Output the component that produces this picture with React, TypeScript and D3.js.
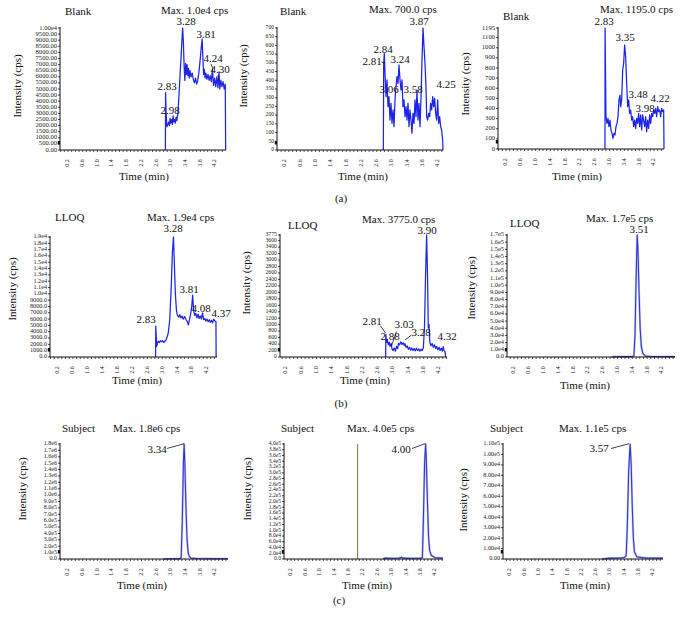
import React from "react";
import * as d3 from "d3";

const FONT = "Liberation Serif";

// ---------- shared tick labels ----------
const xTickLabels = ["0.2", "0.6", "1.0", "1.4", "1.8", "2.2", "2.6", "3.0", "3.4", "3.8", "4.2"];

// ---------- y tick labels per panel ----------
const yLabelsA1 = ["0.00", "500.00", "1000.00", "1500.00", "2000.00", "2500.00", "3000.00", "3500.00", "4000.00", "4500.00", "5000.00", "5500.00", "6000.00", "6500.00", "7000.00", "7500.00", "8000.00", "8500.00", "9000.00", "9500.00", "1.00e4"];
const yLabelsA2 = ["0", "50", "100", "150", "200", "250", "300", "350", "400", "450", "500", "550", "600", "650", "700"];
const yLabelsA3 = ["0", "100", "200", "300", "400", "500", "600", "700", "800", "900", "1000", "1100", "1195"];
const yLabelsB1 = ["0.0", "1000.0", "2000.0", "3000.0", "4000.0", "5000.0", "6000.0", "7000.0", "8000.0", "9000.0", "1.0e4", "1.1e4", "1.2e4", "1.3e4", "1.4e4", "1.5e4", "1.6e4", "1.7e4", "1.8e4", "1.9e4"];
const yLabelsB2 = ["0", "200", "400", "600", "800", "1000", "1200", "1400", "1600", "1800", "2000", "2200", "2400", "2600", "2800", "3000", "3200", "3400", "3600", "3775"];
const yLabelsB3 = ["0.0", "1.0e4", "2.0e4", "3.0e4", "4.0e4", "5.0e4", "6.0e4", "7.0e4", "8.0e4", "9.0e4", "1.0e5", "1.1e5", "1.2e5", "1.3e5", "1.4e5", "1.5e5", "1.6e5", "1.7e5"];
const yLabelsC1 = ["0.0", "1.0e5", "2.0e5", "3.0e5", "4.0e5", "5.0e5", "6.0e5", "7.0e5", "8.0e5", "9.0e5", "1.0e6", "1.1e6", "1.2e6", "1.3e6", "1.4e6", "1.5e6", "1.6e6", "1.7e6", "1.8e6"];
const yLabelsC2 = ["0.0", "2.0e4", "4.0e4", "6.0e4", "8.0e4", "1.0e5", "1.2e5", "1.4e5", "1.6e5", "1.8e5", "2.0e5", "2.2e5", "2.4e5", "2.6e5", "2.8e5", "3.0e5", "3.2e5", "3.4e5", "3.6e5", "3.8e5", "4.0e5"];
const yLabelsC3 = ["0.00", "1.00e4", "2.00e4", "3.00e4", "4.00e4", "5.00e4", "6.00e4", "7.00e4", "8.00e4", "9.00e4", "1.00e5", "1.10e5"];

// ---------- traces: [time (min), intensity (cps)] ----------
const traceA1: [number, number][] = [[2.85,0],[2.855,4700],[2.87,3000],[2.89,1900],[2.92,2100],[2.94,2300],[2.96,2000],[2.98,2600],[3.00,2200],[3.02,2500],[3.04,2100],[3.06,2800],[3.08,2300],[3.10,2500],[3.12,2200],[3.14,2700],[3.16,2400],[3.19,3000],[3.22,4500],[3.25,6200],[3.28,7800],[3.30,9000],[3.32,10000],[3.34,8800],[3.36,6800],[3.38,5700],[3.40,7100],[3.42,6200],[3.44,7000],[3.46,6100],[3.48,6700],[3.50,5900],[3.52,6500],[3.55,6000],[3.58,6300],[3.61,5800],[3.64,5500],[3.67,5900],[3.70,5400],[3.73,5700],[3.76,6300],[3.79,7200],[3.82,8200],[3.85,9100],[3.87,7600],[3.89,6200],[3.91,6600],[3.93,5900],[3.95,6300],[3.98,5800],[4.01,6200],[4.04,5700],[4.07,6100],[4.10,5600],[4.13,6600],[4.16,5300],[4.19,5900],[4.22,5200],[4.25,6000],[4.28,5100],[4.31,6400],[4.33,5000],[4.36,5700],[4.39,5200],[4.42,5600],[4.45,5000],[4.48,5400],[4.49,0]];
const traceA2: [number, number][] = [[2.771,0],[2.78,500],[2.797,555],[2.814,440],[2.841,306],[2.867,402],[2.893,249],[2.919,306],[2.945,172],[2.971,268],[2.997,153],[3.024,230],[3.05,134],[3.076,287],[3.102,363],[3.128,421],[3.154,382],[3.18,488],[3.207,402],[3.233,344],[3.259,402],[3.285,249],[3.311,287],[3.337,191],[3.364,249],[3.39,172],[3.416,268],[3.442,134],[3.468,230],[3.494,172],[3.52,96],[3.546,210],[3.573,153],[3.599,287],[3.625,191],[3.651,344],[3.677,172],[3.703,268],[3.73,134],[3.756,306],[3.782,516],[3.808,700],[3.834,593],[3.86,497],[3.886,363],[3.904,191],[3.93,172],[3.956,210],[3.982,191],[4.008,268],[4.035,230],[4.061,306],[4.087,249],[4.113,296],[4.139,210],[4.165,172],[4.191,287],[4.217,153],[4.244,191],[4.27,134],[4.296,115],[4.322,57],[4.34,0]];
const traceA3: [number, number][] = [[2.875,0],[2.878,1195],[2.902,319],[2.929,253],[2.956,303],[2.983,221],[3.010,286],[3.037,188],[3.064,155],[3.091,105],[3.118,155],[3.146,138],[3.173,221],[3.2,253],[3.227,319],[3.254,484],[3.281,533],[3.299,418],[3.326,484],[3.353,780],[3.38,846],[3.407,1027],[3.434,912],[3.461,649],[3.488,418],[3.515,484],[3.542,352],[3.569,385],[3.596,286],[3.623,319],[3.65,221],[3.677,286],[3.704,204],[3.731,303],[3.758,253],[3.785,352],[3.812,221],[3.839,336],[3.866,188],[3.893,336],[3.92,286],[3.947,221],[3.974,319],[4.001,171],[4.028,286],[4.055,204],[4.083,336],[4.11,253],[4.137,352],[4.164,319],[4.191,385],[4.218,352],[4.245,402],[4.272,319],[4.299,418],[4.326,369],[4.353,385],[4.38,319],[4.407,402],[4.434,369],[4.461,385],[4.479,0]];
const traceB1: [number, number][] = [[2.82,0],[2.825,4900],[2.85,1700],[2.87,2200],[2.89,2500],[2.92,2300],[2.95,2600],[2.98,2400],[3.01,2600],[3.04,2300],[3.07,2500],[3.10,2700],[3.13,3200],[3.16,3800],[3.20,5900],[3.24,11100],[3.27,16500],[3.30,19000],[3.32,15400],[3.35,10100],[3.38,7400],[3.40,6700],[3.44,6300],[3.47,6700],[3.50,6200],[3.53,6500],[3.56,6000],[3.60,6400],[3.64,5900],[3.67,5600],[3.70,5100],[3.73,5900],[3.76,6800],[3.79,8000],[3.815,9800],[3.84,7400],[3.87,6600],[3.90,6900],[3.93,6200],[3.96,6800],[3.99,6100],[4.02,6500],[4.05,6000],[4.08,7000],[4.11,5900],[4.14,6100],[4.17,5700],[4.20,6000],[4.23,5600],[4.26,5900],[4.29,5500],[4.32,5800],[4.35,5400],[4.38,6000],[4.41,5700],[4.44,5600],[4.445,0]];
const traceB2: [number, number][] = [[2.805,0],[2.81,700],[2.83,450],[2.85,520],[2.875,380],[2.90,460],[2.92,330],[2.95,420],[2.97,250],[3.00,200],[3.03,280],[3.06,180],[3.09,330],[3.12,260],[3.14,420],[3.17,380],[3.20,470],[3.23,390],[3.26,440],[3.29,360],[3.31,410],[3.34,300],[3.37,340],[3.40,240],[3.43,300],[3.46,210],[3.49,280],[3.52,200],[3.55,260],[3.58,190],[3.61,270],[3.64,200],[3.67,250],[3.70,180],[3.73,240],[3.76,200],[3.79,280],[3.82,900],[3.85,2600],[3.877,3775],[3.90,2500],[3.92,900],[3.94,1000],[3.96,450],[3.99,350],[4.02,420],[4.05,300],[4.08,380],[4.11,260],[4.14,330],[4.17,220],[4.20,300],[4.23,200],[4.26,270],[4.29,180],[4.31,320],[4.33,210],[4.36,150],[4.374,0]];
const traceB3: [number, number][] = [[2.84,0],[2.9,400],[3.2,500],[3.40,600],[3.44,1500],[3.47,30000],[3.50,110000],[3.53,170000],[3.55,150000],[3.58,90000],[3.61,40000],[3.64,15000],[3.68,5000],[3.75,1500],[3.9,800],[4.2,600],[4.55,500]];
const traceC1: [number, number][] = [[2.79,0],[3.0,3000],[3.25,5000],[3.28,30000],[3.31,600000],[3.34,1500000],[3.36,1800000],[3.38,1500000],[3.41,800000],[3.44,300000],[3.47,100000],[3.50,40000],[3.55,15000],[3.7,8000],[4.0,5000],[4.55,4000]];
const traceC2: [number, number][] = [[2.76,0],[2.8,3000],[3.0,2500],[3.2,3000],[3.27,6000],[3.32,3000],[3.5,2500],[3.8,2500],[3.85,5000],[3.88,150000],[3.91,330000],[3.94,400000],[3.96,340000],[3.99,200000],[4.02,80000],[4.05,30000],[4.1,12000],[4.2,5000],[4.42,3000]];
const traceC3: [number, number][] = [[2.77,0],[3.0,800],[3.3,1000],[3.40,1500],[3.45,3000],[3.48,30000],[3.52,85000],[3.56,110000],[3.59,90000],[3.62,50000],[3.65,20000],[3.68,7000],[3.75,2000],[4.0,1000],[4.48,800]];

// ---------- text ----------
const titles = ["Blank", "Blank", "Blank", "LLOQ", "LLOQ", "LLOQ", "Subject", "Subject", "Subject"];
const maxTexts = ["Max. 1.0e4 cps", "Max. 700.0 cps", "Max. 1195.0 cps", "Max. 1.9e4 cps", "Max. 3775.0 cps", "Max. 1.7e5 cps", "Max. 1.8e6 cps", "Max. 4.0e5 cps", "Max. 1.1e5 cps"];
const yMaxes = [10000, 700, 1195, 19000, 3775, 170000, 1800000, 400000, 110000];
const peakTexts = [
  ["2.83", "2.98", "3.28", "3.81", "4.24", "4.30"],
  ["2.84", "2.81", "3.24", "3.06", "3.58", "3.87", "4.25"],
  ["2.83", "3.35", "3.48", "3.98", "4.22"],
  ["2.83", "3.28", "3.81", "4.08", "4.37"],
  ["2.81", "2.88", "3.03", "3.28", "3.90", "4.32"],
  ["3.51"],
  ["3.34"],
  ["4.00"],
  ["3.57"],
];
const subCaptions = ["(a)", "(b)", "(c)"];
const markerLineTime = 2.05; // olive vertical marker, subject panel 2

// ---------- layout (positions only) ----------
type Layout = {
  left: number; right: number; x02: number; x42: number; top: number; bottom: number;
  titleX: number; titleY: number; maxX: number; maxY: number;
  ylabX: number; ylabY: number; tlabX: number; tlabY: number;
  peaks: [number, number][]; leaders: [number, number, number, number][];
  peakStyle: boolean; tickFont: number; vline?: boolean;
};

const layouts: Layout[] = [
  { left: 60, right: 226, x02: 68, x42: 215, top: 28, bottom: 150, titleX: 65, titleY: 15, maxX: 161, maxY: 14, ylabX: 18, ylabY: 86, tlabX: 144, tlabY: 180,
    peaks: [[167, 90], [170, 114], [186, 25], [206, 38], [213, 62], [220, 73]], leaders: [[211, 64, 213, 69], [218, 75, 219, 80]], peakStyle: false, tickFont: 6.6 },
  { left: 277, right: 443, x02: 285, x42: 438, top: 28, bottom: 150, titleX: 280, titleY: 15, maxX: 369, maxY: 13, ylabX: 244, ylabY: 76, tlabX: 363, tlabY: 180,
    peaks: [[383, 53], [372, 65], [400, 63], [389, 93], [413, 93], [419, 25], [446, 88]], leaders: [[381.5, 62, 385, 63]], peakStyle: false, tickFont: 5.6 },
  { left: 498, right: 664, x02: 506, x42: 654, top: 28, bottom: 149, titleX: 503, titleY: 20, maxX: 600, maxY: 13, ylabX: 466, ylabY: 84, tlabX: 577, tlabY: 180,
    peaks: [[604, 25], [625, 41], [638, 98], [645, 112], [660, 102]], leaders: [], peakStyle: false, tickFont: 6.6 },
  { left: 50, right: 217, x02: 58, x42: 207, top: 237, bottom: 357, titleX: 55, titleY: 221, maxX: 147, maxY: 221, ylabX: 13, ylabY: 289, tlabX: 137, tlabY: 384,
    peaks: [[146, 323], [173, 232], [189, 293], [201, 312], [221, 317]], leaders: [], peakStyle: false, tickFont: 6.2 },
  { left: 280, right: 447, x02: 286, x42: 439, top: 235, bottom: 357, titleX: 288, titleY: 229, maxX: 362, maxY: 223, ylabX: 247, ylabY: 283, tlabX: 365, tlabY: 384,
    peaks: [[372, 325], [390, 340], [404, 328], [421, 336], [427, 234], [447, 340]], leaders: [[380.5, 326, 385.5, 333], [396.5, 331.5, 391.5, 346], [411.5, 335, 405, 340]], peakStyle: false, tickFont: 5.8 },
  { left: 507, right: 675, x02: 514, x42: 662, top: 235, bottom: 357, titleX: 510, titleY: 227, maxX: 586, maxY: 222, ylabX: 472, ylabY: 288, tlabX: 585, tlabY: 389,
    peaks: [[639, 233]], leaders: [], peakStyle: true, tickFont: 6.4 },
  { left: 60, right: 228, x02: 68, x42: 215, top: 444, bottom: 559, titleX: 62, titleY: 432, maxX: 113, maxY: 432, ylabX: 23, ylabY: 489, tlabX: 142, tlabY: 589,
    peaks: [[157, 453]], leaders: [[167, 448.5, 184, 443.7]], peakStyle: true, tickFont: 6 },
  { left: 284, right: 443, x02: 291, x42: 435, top: 444, bottom: 559, titleX: 281, titleY: 432, maxX: 347, maxY: 432, ylabX: 248, ylabY: 489, tlabX: 367, tlabY: 589,
    peaks: [[401, 453]], leaders: [[412, 448.5, 425, 443.7]], peakStyle: true, tickFont: 5.6, vline: true },
  { left: 503, right: 663, x02: 510, x42: 653, top: 444, bottom: 559, titleX: 490, titleY: 432, maxX: 559, maxY: 432, ylabX: 464, ylabY: 500, tlabX: 585, tlabY: 589,
    peaks: [[599, 452]], leaders: [[611, 448.5, 629, 443.7]], peakStyle: true, tickFont: 6.2 },
];

const traces = [traceA1, traceA2, traceA3, traceB1, traceB2, traceB3, traceC1, traceC2, traceC3];
const yLabelSets = [yLabelsA1, yLabelsA2, yLabelsA3, yLabelsB1, yLabelsB2, yLabelsB3, yLabelsC1, yLabelsC2, yLabelsC3];
const captionPos: [number, number][] = [[341, 202], [341, 407], [339, 604]];

function Panel({ i }: { i: number }) {
  const L = layouts[i];
  const yMax = yMaxes[i];
  const x = d3.scaleLinear().domain([0.2, 4.2]).range([L.x02, L.x42]);
  const y = d3.scaleLinear().domain([0, yMax]).range([L.bottom, L.top]);
  const tStart = x.invert(L.left);
  const tEnd = x.invert(L.right);
  const minor = d3.range(Math.ceil(tStart * 10 + 0.01), Math.floor(tEnd * 10) + 1).map((k) => k / 10);
  const line = d3
    .line<[number, number]>()
    .x((d) => x(Math.min(d[0], tEnd)))
    .y((d) => y(Math.min(d[1], yMax)));
  const color = L.peakStyle ? "#3434c8" : "#1e24e6";
  return (
    <g style={{ fontFamily: FONT }}>
      {L.peakStyle && (
        <path d={line(traces[i]) || ""} fill="none" stroke="#9aa0ee" strokeWidth={2.2} strokeLinejoin="round" opacity={0.6} />
      )}
      <path d={line(traces[i]) || ""} fill="none" stroke={color} strokeWidth={L.peakStyle ? 1.1 : 1.25} strokeLinejoin="round" />
      {L.vline && (
        <line x1={x(markerLineTime)} x2={x(markerLineTime)} y1={L.top} y2={L.bottom} stroke="#7d7838" strokeWidth={1} />
      )}
      <line x1={L.left} x2={L.left} y1={L.top - 1} y2={L.bottom} stroke="#111" strokeWidth={1} />
      <line x1={L.left} x2={L.right} y1={L.bottom} y2={L.bottom} stroke="#111" strokeWidth={1} />
      {minor.map((t) => (
        <line key={"m" + t} x1={x(t)} x2={x(t)} y1={L.bottom} y2={L.bottom + 2} stroke="#222" strokeWidth={0.8} />
      ))}
      <rect x={L.left - 2.2} y={L.bottom - 9} width={2.2} height={3.5} fill="#111" />
      {yLabelSets[i].map((lab) => {
        const yy = y(Number(lab));
        return (
          <g key={"y" + lab}>
            <line x1={L.left - 1.8} x2={L.left} y1={yy} y2={yy} stroke="#111" strokeWidth={0.9} />
            <text x={L.left - 3} y={yy} fontSize={L.tickFont} textAnchor="end" dominantBaseline="middle" fill="#222">
              {lab}
            </text>
          </g>
        );
      })}
      {xTickLabels.map((lab) => (
        <text
          key={"x" + lab}
          transform={`translate(${x(Number(lab))},${L.bottom + 13}) rotate(-90)`}
          fontSize={6}
          textAnchor="middle"
          dominantBaseline="middle"
          fill="#222"
        >
          {lab}
        </text>
      ))}
      <text x={L.titleX} y={L.titleY} fontSize={11} fill="#111">{titles[i]}</text>
      <text x={L.maxX} y={L.maxY} fontSize={11} fill="#111">{maxTexts[i]}</text>
      <text transform={`translate(${L.ylabX},${L.ylabY}) rotate(-90)`} fontSize={11} textAnchor="middle" dominantBaseline="middle" fill="#111">
        Intensity (cps)
      </text>
      <text x={L.tlabX} y={L.tlabY} fontSize={11} textAnchor="middle" fill="#111">Time (min)</text>
      {peakTexts[i].map((p, k) => (
        <text key={"p" + k} x={L.peaks[k][0]} y={L.peaks[k][1]} fontSize={11} textAnchor="middle" fill="#111">
          {p}
        </text>
      ))}
      {L.leaders.map((ld, k) => (
        <line key={"l" + k} x1={ld[0]} y1={ld[1]} x2={ld[2]} y2={ld[3]} stroke="#111" strokeWidth={0.8} />
      ))}
    </g>
  );
}

export default function App() {
  return (
    <svg width={682} height={622} style={{ position: "absolute", left: 0, top: 0, background: "#fff" }}>
      <rect width={682} height={622} fill="#fff" />
      {layouts.map((_, i) => (
        <Panel key={i} i={i} />
      ))}
      {subCaptions.map((c, k) => (
        <text key={c} x={captionPos[k][0]} y={captionPos[k][1]} fontSize={11} textAnchor="middle" style={{ fontFamily: FONT }} fill="#111">
          {c}
        </text>
      ))}
    </svg>
  );
}
